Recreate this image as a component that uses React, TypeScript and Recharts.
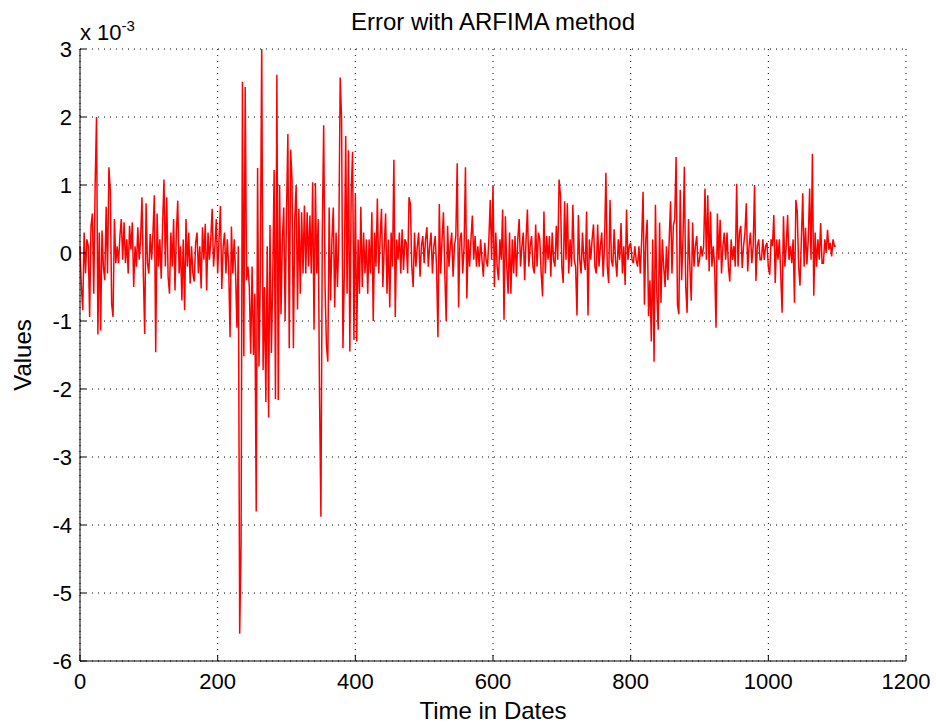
import React from 'react';
import { LineChart, Line, XAxis, YAxis, CartesianGrid } from 'recharts';

// error values in units of 1e-3, one reading every 2 dates
const DAY_STEP = 2;
const ERRORS = [
  0.1, -0.5, -0.84, 0.3, -0.3, 0.2, 0.1, -0.94, 0.4, 0.58, -0.6, 1.0, 2.0, -1.2, 0.3,
  -1.14, 0.33, -0.2, -0.4, 0.68, -0.3, 1.26, 0.92, -0.75, -0.94, 0.5, -0.15, 0.1, -0.15, 0.25,
  0.5, -0.1, 0.45, -0.15, 0.2, -0.3, 0.4, 0.05, 0.45, -0.5, 0.1, -0.2, 0.38, -0.1, 0.2,
  0.82, -0.3, -1.19, 0.73, -0.15, -0.3, 0.28, -0.1, 0.3, 0.85, -1.46, 0.58, -0.2, 0.2, -0.38,
  0.4, 1.08, -0.2, 0.82, -0.35, -0.6, 0.3, -0.2, 0.5, -0.55, 0.3, 0.77, -0.3, 0.1, -0.7,
  0.2, -0.84, 0.5, -0.2, 0.3, -0.45, 0.1, -0.3, -0.42, 0.15, 0.3, -0.3, 0.1, -0.52, 0.38,
  -0.1, 0.43, -0.55, 0.3, -0.1, 0.2, 0.65, -0.2, 0.1, 0.5, -0.3, 0.2, 0.69, -0.53, 0.1,
  0.3, -0.3, 0.2, -0.2, -1.24, 0.39, -0.3, 0.2, -0.3, -1.1, 0.1, -5.6, -4.28, 2.52, -1.52,
  2.44, -0.4, -0.2, -0.5, -1.48, -0.2, -1.5, -0.6, -3.8, 1.25, -1.67, -0.3, 3.1, -1.72, -0.5,
  -2.19, 0.1, -2.42, 0.41, -1.47, -0.4, 1.22, -2.15, 2.62, -2.16, 1.0, -0.9, 0.2, 0.67, -1.0,
  0.6, 1.75, -1.4, 1.52, 1.08, -1.4, 0.5, 1.0, -0.83, 0.65, -0.6, 0.6, -0.3, 0.7, -0.3,
  0.6, -0.2, 0.55, -0.3, 1.04, -1.13, 1.03, -0.3, 0.5, -2.13, -3.88, 0.3, 1.88, -0.5, -1.36,
  -1.6, 0.67, -0.7, 0.2, 0.67, -0.8, 0.3, -0.5, 0.2, 2.58, 1.97, -1.4, -0.3, 1.72, -0.6,
  1.51, -1.45, 0.9, 1.49, -1.28, 0.88, -1.3, 0.2, -0.6, 0.68, -0.5, 0.3, -0.3, 0.2, -0.6,
  0.2, -0.3, 0.6, -1.0, 0.3, -0.2, 0.8, -0.3, 0.2, 0.65, -0.5, 0.1, 0.58, -0.6, 0.2,
  -0.8, 0.3, -0.2, 1.37, -0.94, 0.2, -0.1, 0.3, -0.3, 0.35, -0.25, 0.2, 0.15, -0.3, 0.82,
  0.72, -0.2, -0.5, 0.3, -0.2, 0.1, 0.3, -0.35, 0.1, 0.25, -0.15, 0.2, 0.38, -0.2, 0.1,
  0.3, -0.3, 0.1, 0.25, -0.2, -1.24, 0.72, -0.3, 0.2, 0.6, -0.3, -1.0, 0.4, -0.2, 0.1,
  0.3, -0.35, 0.1, 0.25, 1.32, -0.8, 0.2, 0.3, -0.3, 0.1, 1.26, -0.67, 0.2, -0.2, 0.2,
  0.55, -0.1, 0.25, -0.2, 0.1, -0.2, 0.2, -0.1, -0.35, 0.15, -0.1, -0.2, 0.2, 0.78, -0.1,
  1.0, -0.5, 0.3, -0.2, -0.4, 0.2, -0.1, 0.64, -0.98, 0.54, -0.2, -0.6, 0.3, -0.6, 0.2,
  -0.3, 0.25, -0.35, 0.2, 0.5, -0.2, 0.1, 0.3, -0.4, 0.2, 0.64, -0.2, 0.1, 0.25, -0.2,
  -0.3, 0.42, -0.2, 0.3, 0.2, -0.3, -0.64, 0.61, -0.3, 0.25, -0.1, 0.25, -0.35, 0.3, -0.1,
  -0.2, 0.4, -0.1, 1.08, 0.85, -0.2, -0.44, 0.76, -0.1, 0.73, -0.3, 0.2, -0.2, 0.71, -0.1,
  -0.2, -0.92, 0.56, -0.1, -0.3, 0.3, -0.1, -0.25, 0.61, -0.92, 0.2, -0.1, 0.2, 0.42, -0.2,
  -0.3, 0.42, -0.2, 0.1, 0.3, -0.35, 0.1, 1.18, -0.2, -0.44, 0.78, -0.1, -0.2, 0.35, -0.1,
  -0.35, 0.2, -0.1, 0.44, -0.3, 0.1, -0.47, 0.64, -0.1, 0.1, 0.15, -0.1, -0.15, 0.1, -0.1,
  -0.2, 0.1, -0.3, 0.2, 0.9, -0.76, 0.2, 0.49, -0.93, -0.4, -1.3, 0.2, -1.6, 0.71, -0.6,
  -1.13, 0.45, -0.73, 0.2, -0.2, -0.5, 0.1, -0.4, 0.2, 0.76, -0.3, 0.4, 0.5, 1.41, -0.76,
  -0.9, 0.93, -0.4, 0.2, 1.27, -0.5, -0.88, 0.5, -0.2, -0.7, 0.45, -0.2, 0.1, 0.25, -0.2,
  -0.1, 0.1, -0.05, 0.1, 0.95, -0.1, 0.85, -0.27, 0.61, -0.2, 0.1, -0.2, -1.1, 0.58, -0.1,
  0.49, -0.3, 0.1, 0.3, -0.1, 0.3, -0.2, -0.42, 0.2, -0.1, 0.1, -0.2, 1.02, -0.2, 0.3,
  0.4, -0.22, 0.1, 0.3, 0.73, -0.27, 0.1, 0.3, -0.15, 0.1, 1.0, -0.41, 0.1, 0.2, -0.1,
  -0.1, 0.2, -0.1, 0.1, 0.15, -0.2, -0.32, 0.2, 0.1, 0.56, -0.44, 0.2, -0.1, 0.2, -0.3,
  -0.88, 0.54, -0.2, 0.1, 0.56, -0.1, 0.1, -0.15, 0.2, -0.73, 0.78, 0.61, -0.2, -0.48, 0.2,
  0.88, -0.2, 0.37, -0.17, 0.2, 0.95, -0.1, 1.46, -0.63, 0.3, -0.2, 0.2, -0.1, 0.44, -0.15,
  -0.15, 0.2, 0.0, 0.34, 0.05, 0.15, -0.05, 0.2, 0.1, 0.1,
];

const X_TICKS = [0, 200, 400, 600, 800, 1000, 1200];
const Y_TICKS = [-6, -5, -4, -3, -2, -1, 0, 1, 2, 3];

const data = ERRORS.map((v, i) => ({ day: i * DAY_STEP, err: v }));

const FONT = '"Liberation Sans", Arial, sans-serif';
const tickStyle = { fontSize: 22, fill: '#000', fontFamily: FONT };

export default function App() {
  return (
    <div style={{ position: 'absolute', left: 0, top: 0, width: 936, height: 724, background: '#fff', fontFamily: FONT, color: '#000' }}>
      <LineChart width={936} height={724} data={data} margin={{ top: 49, right: 30, bottom: 33, left: 20 }}>
        <CartesianGrid xAxisId="b" yAxisId="l" stroke="#000" strokeDasharray="1 5" />
        <XAxis
          xAxisId="b"
          dataKey="day"
          type="number"
          domain={[0, 1200]}
          ticks={X_TICKS}
          height={30}
          tickSize={-6}
          tickMargin={18}
          tick={tickStyle}
          stroke="#000"
          interval={0}
        />
        <XAxis
          xAxisId="t"
          orientation="top"
          dataKey="day"
          type="number"
          domain={[0, 1200]}
          ticks={X_TICKS}
          height={0}
          tickSize={-6}
          tick={false}
          stroke="#000"
        />
        <YAxis
          yAxisId="l"
          type="number"
          domain={[-6, 3]}
          ticks={Y_TICKS}
          width={60}
          tickSize={-6}
          tickMargin={14}
          tick={tickStyle}
          stroke="#000"
          interval={0}
          allowDataOverflow
        />
        <YAxis
          yAxisId="r"
          orientation="right"
          type="number"
          domain={[-6, 3]}
          ticks={Y_TICKS}
          width={0}
          tickSize={-6}
          tick={false}
          stroke="#000"
          allowDataOverflow
        />
        <Line
          xAxisId="b"
          yAxisId="l"
          dataKey="err"
          type="linear"
          stroke="#ff0000"
          strokeWidth={1.5}
          dot={false}
          isAnimationActive={false}
        />
      </LineChart>
      <div style={{ position: 'absolute', left: 80, width: 826, top: 10, lineHeight: '24px', textAlign: 'center', fontSize: 24 }}>
        Error with ARFIMA method
      </div>
      <div style={{ position: 'absolute', left: 80, top: 16, lineHeight: '22px', fontSize: 22 }}>
        x 10<sup style={{ fontSize: 15, position: 'relative', top: -1 }}>-3</sup>
      </div>
      <div style={{ position: 'absolute', left: 80, width: 826, top: 699, lineHeight: '24px', textAlign: 'center', fontSize: 24 }}>
        Time in Dates
      </div>
      <div
        style={{
          position: 'absolute',
          left: 23,
          top: 355,
          fontSize: 24,
          lineHeight: '24px',
          transform: 'translate(-50%, -50%) rotate(-90deg)',
          whiteSpace: 'nowrap',
        }}
      >
        Values
      </div>
    </div>
  );
}
